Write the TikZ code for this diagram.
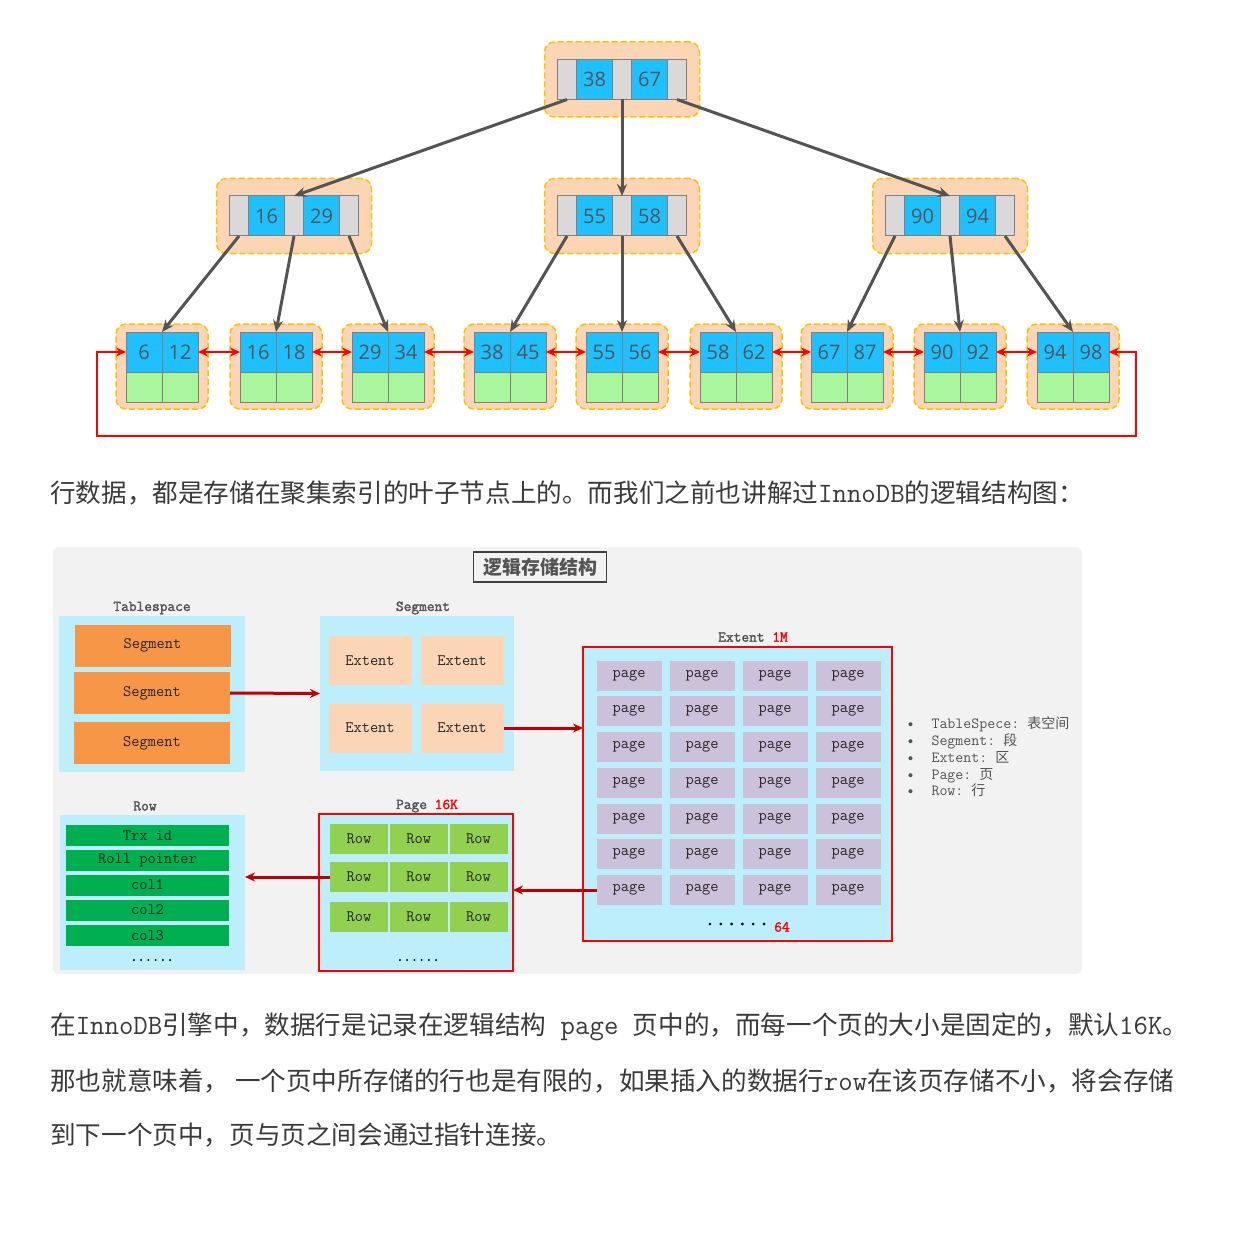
\documentclass[tikz,border=0pt]{standalone}
\usepackage{fontspec}
\setmainfont{Noto Sans CJK SC}
\setmonofont{Latin Modern Mono}[AutoFakeBold=2]
\newfontfamily\numfont{Open Sans}
\newfontfamily\cjk{Noto Sans CJK SC}
\usetikzlibrary{arrows.meta,positioning,calc}
\definecolor{nodeFill}{RGB}{252,213,180}
\definecolor{nodeDash}{RGB}{255,192,0}
\definecolor{keyBlue}{RGB}{30,192,255}
\definecolor{ptrGrey}{RGB}{217,217,217}
\definecolor{cellLine}{RGB}{127,127,127}
\definecolor{rowGreen}{RGB}{168,247,157}
\definecolor{numGrey}{RGB}{84,84,84}
\definecolor{linkRed}{RGB}{255,0,0}
\definecolor{textDark}{RGB}{58,58,58}
\definecolor{panelGrey}{RGB}{242,242,242}
\definecolor{paleBlue}{RGB}{189,238,251}
\definecolor{segOrange}{RGB}{247,150,70}
\definecolor{extPeach}{RGB}{251,213,181}
\definecolor{pageLilac}{RGB}{204,193,218}
\definecolor{rowLime}{RGB}{146,208,80}
\definecolor{fieldGreen}{RGB}{0,176,80}
\definecolor{darkRed}{RGB}{192,0,0}
\tikzset{
  nodebg/.style={draw=nodeDash,fill=nodeFill,dash pattern=on 6pt off 3pt,
                 line width=1.5pt,rounded corners=10pt,
                 minimum width=155pt,minimum height=75pt},
  leafbg/.style={nodebg,minimum width=92pt,minimum height=85pt},
  ptr/.style={draw=cellLine,fill=ptrGrey,line width=1pt,inner sep=0pt,outer sep=0pt,
              minimum width=19pt,minimum height=40pt},
  key/.style={draw=cellLine,fill=keyBlue,line width=1pt,inner sep=0pt,outer sep=0pt,
              minimum width=36pt,minimum height=40pt,text=numGrey,
              font=\numfont\fontsize{20}{20}\selectfont},
  dat/.style={draw=cellLine,fill=rowGreen,line width=1pt,inner sep=0pt,outer sep=0pt,
              minimum width=36pt,minimum height=30pt},
  tree/.style={-{Stealth[length=12pt,width=10pt]},numGrey,line width=3pt},
  link/.style={{Stealth[length=10pt,width=9pt]}-{Stealth[length=10pt,width=9pt]},
               linkRed,line width=2.5pt},
  para/.style={anchor=west,inner sep=0pt,text=textDark,font=\fontsize{25.6}{25.6}\selectfont},
  lbl/.style={text=numGrey,font=\ttfamily\bfseries\fontsize{15}{15}\selectfont},
  pale/.style={fill=paleBlue,inner sep=0pt,outer sep=0pt},
  redbox/.style={pale,draw=linkRed,line width=1.5pt},
  box/.style={inner sep=0pt,outer sep=0pt,text=black!85,
              font=\ttfamily\fontsize{16}{16}\selectfont},
  seg/.style={box,fill=segOrange,minimum width=156pt,minimum height=42pt},
  ext/.style={box,fill=extPeach,minimum width=83pt,minimum height=49pt},
  pg/.style={box,fill=pageLilac,minimum width=65pt,minimum height=30pt},
  rowc/.style={box,fill=rowLime,minimum width=58pt,minimum height=30pt},
  fld/.style={box,fill=fieldGreen,minimum width=163pt,minimum height=21pt},
  flow/.style={-{Stealth[length=10pt,width=9pt]},darkRed,line width=3pt},
  dots/.style={text=black,font=\ttfamily\bfseries\fontsize{14}{14}\selectfont}
}
\begin{document}
\begin{tikzpicture}[x=1pt,y=-1pt]
    \fill[white] (0,0) rectangle (1246,1233);
    \useasboundingbox (0,0) rectangle (1246,1233);

    % B+ tree: root and inner nodes
    \foreach \nm/\cx/\cy/\ka/\kb in {r/622/79.5/38/67, a/294/216/16/29,
                                     b/622/216/55/58, c/950/216/90/94} {
        \node[nodebg] (\nm bg) at (\cx,\cy) {};
        \node[ptr] (\nm1) at (\cx,\cy) {};
        \node[key] at (\cx-27.5,\cy) {\ka};
        \node[ptr] (\nm0) at (\cx-55,\cy) {};
        \node[key] at (\cx+27.5,\cy) {\kb};
        \node[ptr] (\nm2) at (\cx+55,\cy) {};
    }

    % Leaf pages
    \foreach \i/\cx/\ka/\kb in {1/162/6/12, 2/276/16/18, 3/388/29/34, 4/510/38/45,
                                5/622/55/56, 6/736/58/62, 7/847/67/87, 8/960/90/92,
                                9/1073/94/98} {
        \node[leafbg] (leaf\i) at (\cx,366.5) {};
        \node[key] (lfa\i) at (\cx-18,352) {\ka};
        \node[key] (lfb\i) at (\cx+18,352) {\kb};
        \node[dat] at (\cx-18,387) {};
        \node[dat] at (\cx+18,387) {};
    }

    % Pointers
    \draw[tree] (r0.south) -- (a1.north);
    \draw[tree] (r1.south) -- (b1.north);
    \draw[tree] (r2.south) -- (c1.north);
    \draw[tree] (a0.south) -- (lfa1.north east);
    \draw[tree] (a1.south) -- (lfa2.north east);
    \draw[tree] (a2.south) -- (lfa3.north east);
    \draw[tree] (b0.south) -- (lfa4.north east);
    \draw[tree] (b1.south) -- (lfa5.north east);
    \draw[tree] (b2.south) -- (lfa6.north east);
    \draw[tree] (c0.south) -- (lfa7.north east);
    \draw[tree] (c1.south) -- (lfa8.north east);
    \draw[tree] (c2.south) -- (lfa9.north east);

    % Doubly linked leaves
    \foreach \i/\j in {1/2,2/3,3/4,4/5,5/6,6/7,7/8,8/9}
        \draw[link] (lfb\i.east) -- (lfa\j.west);
    \coordinate (loopL) at (97,436);
    \coordinate (loopR) at (1136,436);
    \draw[link] (lfa1.west) -| (loopL) -- (loopR) |- (lfb9.east);

    \node[para] (p1) at (50,493) {行数据，都是存储在聚集索引的叶子节点上的。而我们之前也讲解过{\ttfamily\fontsize{28}{25}\selectfont InnoDB}的逻辑结构图：};

    % Logical storage structure
    \fill[panelGrey,rounded corners=6pt] (53,547) rectangle (1082,974);
    \node[draw=black!75,fill=panelGrey,line width=1.2pt,minimum width=133pt,minimum height=30pt,
          inner sep=0pt,text=numGrey,font=\bfseries\fontsize{19}{19}\selectfont] (title) at (540,567) {逻辑存储结构};

    \node[lbl] at (152,608) {Tablespace};
    \node[pale,minimum width=186pt,minimum height=156pt] (tsp) at (152,694) {};
    \node[seg] (seg1) at (152.5,645.5) {Segment};
    \node[seg] (seg2) at (152,693) {Segment};
    \node[seg] (seg3) at (152,743) {Segment};

    \node[lbl] at (423,608) {Segment};
    \node[pale,minimum width=194pt,minimum height=155pt] (segbox) at (417,693.5) {};
    \node[ext] (ext1) at (370,660.5) {Extent};
    \node[ext] (ext2) at (462,660.5) {Extent};
    \node[ext] (ext3) at (370,728) {Extent};
    \node[ext] (ext4) at (462,728) {Extent};

    \node[lbl] at (753,637) {Extent \textcolor{linkRed}{1M}};
    \node[redbox,minimum width=309pt,minimum height=294pt] (extbox) at (737.5,794) {};
    \foreach \r in {0,...,6}
        \foreach \c in {0,...,3}
            \node[pg] (pg\r\c) at (629+73*\c,675.5+35.75*\r) {page};
    \node[dots,font=\ttfamily\bfseries\fontsize{21}{21}\selectfont] at (737,924) {......};
    \node[lbl,text=linkRed] at (782,927) {64};

    \node[lbl] at (427,806) {Page \textcolor{linkRed}{16K}};
    \node[redbox,minimum width=194pt,minimum height=157pt] (pagebox) at (416,892.5) {};
    \foreach \r/\y in {0/839,1/877,2/916.5}
        \foreach \c in {0,1,2}
            \node[rowc] (rc\r\c) at (359+59.75*\c,\y) {Row};
    \node[dots] at (418,960) {......};

    \node[lbl] at (145,806) {Row};
    \node[pale,minimum width=185pt,minimum height=155pt] (rowbox) at (152.5,892.5) {};
    \foreach \y/\t in {835.5/Trx id, 860.5/Roll pointer, 885/col1, 910/col2, 935.5/col3}
        \node[fld] at (147.5,\y) {\t};
    \node[dots] at (152,960) {......};

    \draw[flow] (seg2.east) -- (segbox.west);
    \draw[flow] (ext4.east) -- (ext4.east -| extbox.west);
    \draw[flow] (pg60.west) -- (pg60.west -| pagebox.east);
    \draw[flow] (rc10.west) -- (rc10.west -| rowbox.east);

    \node[anchor=west,align=left,text=numGrey,font=\ttfamily\fontsize{15.5}{16.8}\selectfont] (legend) at (903,757)
        {\makebox[25pt][l]{\textbullet}TableSpece: {\cjk\fontsize{14}{16.8}\selectfont 表空间}\\
         \makebox[25pt][l]{\textbullet}Segment: {\cjk\fontsize{14}{16.8}\selectfont 段}\\
         \makebox[25pt][l]{\textbullet}Extent: {\cjk\fontsize{14}{16.8}\selectfont 区}\\
         \makebox[25pt][l]{\textbullet}Page: {\cjk\fontsize{14}{16.8}\selectfont 页}\\
         \makebox[25pt][l]{\textbullet}Row: {\cjk\fontsize{14}{16.8}\selectfont 行}};

    \node[para] (p2) at (50,1027) {在{\ttfamily\fontsize{28}{25}\selectfont InnoDB}引擎中，数据行是记录在逻辑结构{\ttfamily\fontsize{28}{25}\selectfont\ page\ }页中的，而每一个页的大小是固定的，默认{\ttfamily\fontsize{28}{25}\selectfont 16K}。};
    \node[para] (p3) at (50,1081) {那也就意味着， 一个页中所存储的行也是有限的，如果插入的数据行{\ttfamily\fontsize{28}{25}\selectfont row}在该页存储不小，将会存储};
    \node[para] (p4) at (50,1135) {到下一个页中，页与页之间会通过指针连接。};
\end{tikzpicture}
\end{document}
